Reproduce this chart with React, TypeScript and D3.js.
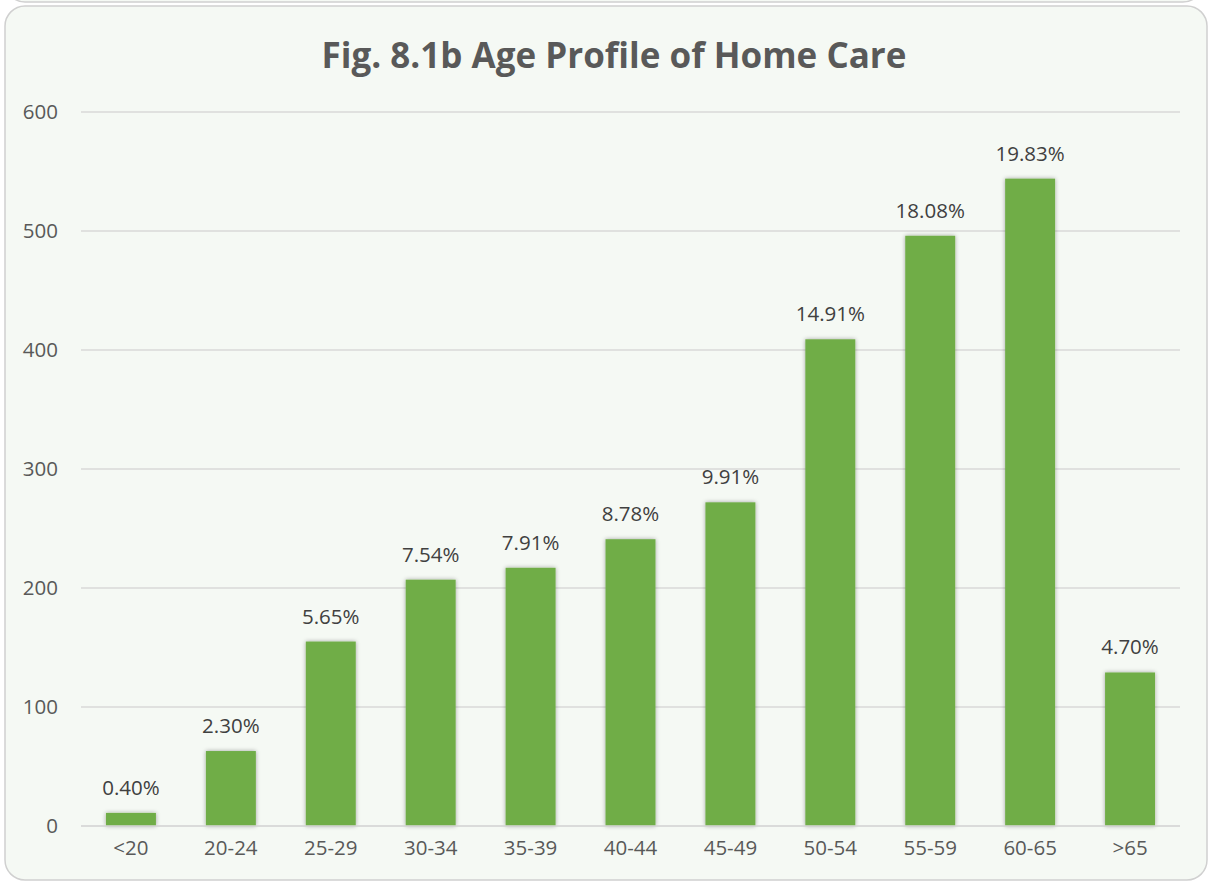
import * as d3 from "d3";

const ageGroups = ["<20", "20-24", "25-29", "30-34", "35-39", "40-44", "45-49", "50-54", "55-59", "60-65", ">65"];
const counts = [11, 63, 155, 207, 217, 241, 272, 409, 496, 544, 129];
const shares = ["0.40%", "2.30%", "5.65%", "7.54%", "7.91%", "8.78%", "9.91%", "14.91%", "18.08%", "19.83%", "4.70%"];
const yTicks = [0, 100, 200, 300, 400, 500, 600];

const width = 1208;
const height = 882;
const marginLeft = 81;
const marginRight = 28;
const marginTop = 112;
const plotBottom = 826;

export default function App() {
  const x = d3.scaleBand<string>().domain(ageGroups).range([marginLeft, width - marginRight]).paddingInner(0.5).paddingOuter(0.25);
  const y = d3.scaleLinear().domain([0, 600]).range([plotBottom, marginTop]);
  const font = "'Open Sans', 'DejaVu Sans', sans-serif";

  return (
    <svg width={width} height={height} style={{ position: "absolute", left: 0, top: 0, display: "block" }} fontFamily={font}>
      <defs>
        <filter id="shadow" x="-20%" y="-5%" width="140%" height="110%">
          <feDropShadow dx="0" dy="0" stdDeviation="2" floodColor="#000" floodOpacity="0.35" />
        </filter>
      </defs>
      <rect x={0} y={0} width={width} height={height} fill="#ffffff" />
      <rect x={5} y={-120} width={width - 10} height={122} rx={20} fill="#f5f9f4" stroke="#d0d0d0" strokeWidth={1.5} />
      <rect x={5} y={6} width={1202} height={874} rx={20} fill="#f5f9f4" stroke="#d0d0d0" strokeWidth={1.5} />
      <text x={614} y={68} textAnchor="middle" fontSize={35} fontWeight="bold" fill="#595959">
        Fig. 8.1b Age Profile of Home Care
      </text>
      <g>
        {yTicks.map((t) => (
          <g key={t}>
            <line x1={marginLeft} x2={width - marginRight} y1={y(t)} y2={y(t)} stroke="#d9d9d9" strokeWidth={1.5} />
            <text x={58} y={y(t)} dy="0.36em" textAnchor="end" fontSize={20.5} fill="#595959">
              {t}
            </text>
          </g>
        ))}
      </g>
      <g fill="#70ad47" filter="url(#shadow)">
        {counts.map((c, i) => (
          <rect key={i} x={x(ageGroups[i])} y={y(c)} width={x.bandwidth()} height={plotBottom - y(c)} />
        ))}
      </g>
      <line x1={marginLeft} x2={width - marginRight} y1={plotBottom} y2={plotBottom} stroke="#d9d9d9" strokeWidth={1.5} />
      <g fontSize={20.5} textAnchor="middle">
        {counts.map((c, i) => (
          <text key={i} x={(x(ageGroups[i]) ?? 0) + x.bandwidth() / 2} y={y(c) - 18} fill="#404040">
            {shares[i]}
          </text>
        ))}
        {ageGroups.map((g) => (
          <text key={g} x={(x(g) ?? 0) + x.bandwidth() / 2} y={855} fill="#595959">
            {g}
          </text>
        ))}
      </g>
    </svg>
  );
}
